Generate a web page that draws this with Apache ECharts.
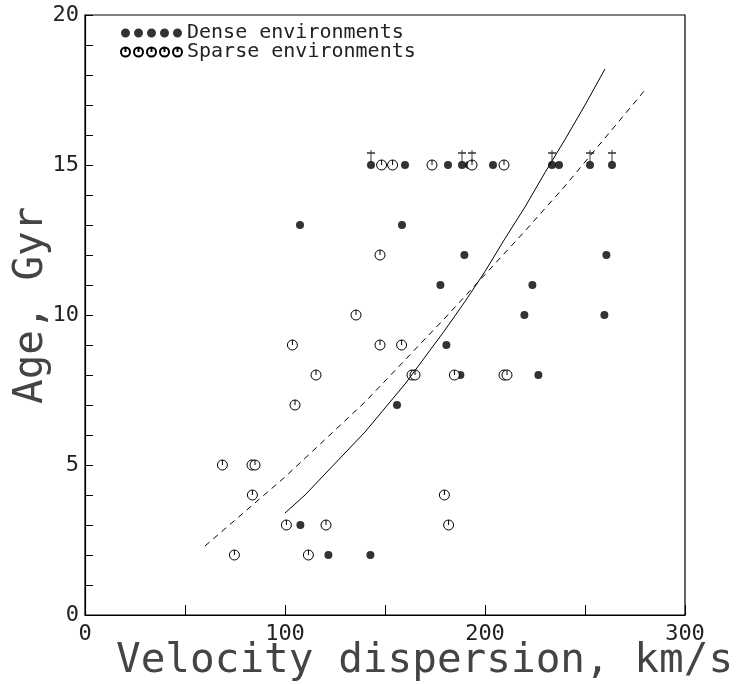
<!DOCTYPE html>
<html>
<head>
<meta charset="utf-8">
<script src="https://cdn.jsdelivr.net/npm/echarts@6/dist/echarts.min.js"></script>
<style>
  html, body { margin: 0; padding: 0; background: #fff; }
  #main { width: 737px; height: 684px; }
</style>
</head>
<body>
<div id="main"></div>
<script>
// dense environments (filled dots)
var denseX = [143, 160, 181.5, 188.5, 192, 204, 233.5, 237, 252.5, 263.5,
              107.5, 158.5, 189.7, 260.7, 177.7, 223.7, 219.7, 259.7,
              180.7, 187.7, 226.7, 156, 107.7, 121.7, 142.7];
var denseY = [15, 15, 15, 15, 15, 15, 15, 15, 15, 15,
              13, 13, 12, 12, 11, 11, 10, 10,
              9, 8, 8, 7, 3, 2, 2];

// sparse environments (open circles)
var sparseX = [148.3, 153.8, 173.5, 193.5, 209.5, 147.5, 135.5,
               103.7, 147.5, 158.3, 115.5, 163.5, 165, 184.7, 209.5, 211,
               105, 68.7, 83.5, 85, 83.7, 179.7, 100.7, 120.5, 181.8, 74.7, 111.7];
var sparseY = [15, 15, 15, 15, 15, 12, 10,
               9, 9, 9, 8, 8, 8, 8, 8, 8,
               7, 5, 5, 5, 4, 4, 3, 3, 3, 2, 2];

// lower limits (daggers above the dots at 15 Gyr)
var limitX = [143, 188.5, 193.5, 233.5, 252.5, 263.5];
var limitY = [15, 15, 15, 15, 15, 15];

// fitted relations
var solidX = [100, 110, 120, 130, 140, 150, 160, 170, 180, 190, 200, 210, 220, 230, 240, 250, 260];
var solidY = [3.4, 4.0, 4.7, 5.4, 6.1, 6.9, 7.7, 8.6, 9.5, 10.45, 11.45, 12.55, 13.6, 14.75, 15.85, 17.0, 18.2];
var dashX = [60, 80, 100, 120, 140, 160, 180, 200, 220, 240, 260, 280];
var dashY = [2.3, 3.45, 4.6, 5.85, 7.1, 8.5, 9.9, 11.35, 12.8, 14.3, 15.9, 17.5];

var xTicks = [0, 100, 200, 300];
var yTicks = [0, 5, 10, 15, 20];

var FONT = 'DejaVu Sans Mono';

function pairs(xs, ys) {
    var out = [];
    for (var i = 0; i < xs.length; i++) out.push([xs[i], ys[i]]);
    return out;
}

var ring = 'M0,5A5,5,0,1,1,10,5A5,5,0,1,1,0,5ZM5,0L5,5';
var dagger = 'path://M4,0L4,12M0,3L8,3';

// five-marker legend icons
var dotsIcon = 'path://', ringsIcon = 'path://';
for (var k = 0; k < 5; k++) {
    var c = k * 13;
    dotsIcon += 'M' + c + ',4.5A4.5,4.5,0,1,1,' + (c + 9) + ',4.5A4.5,4.5,0,1,1,' + c + ',4.5Z';
    ringsIcon += 'M' + c + ',4.5A4.5,4.5,0,1,1,' + (c + 9) + ',4.5A4.5,4.5,0,1,1,' + c + ',4.5Z' +
                 'M' + (c + 4.5) + ',0L' + (c + 4.5) + ',4.5';
}

var chart = echarts.init(document.getElementById('main'), null, { renderer: 'canvas' });

var option = {
    backgroundColor: '#fff',
    animation: false,
    grid: {
        left: 85, right: 52, top: 15, bottom: 69,
        show: true, borderColor: '#000', borderWidth: 1.2, backgroundColor: 'transparent'
    },
    legend: {
        orient: 'vertical',
        left: 115, top: 18,
        itemWidth: 61, itemHeight: 9, itemGap: -1,
        selectedMode: false,
        textStyle: { fontFamily: FONT, fontSize: 20, color: '#222', lineHeight: 20 },
        data: [
            { name: 'Dense environments', icon: dotsIcon },
            { name: 'Sparse environments', icon: ringsIcon }
        ]
    },
    xAxis: {
        type: 'value', min: 0, max: 300, interval: 50,
        axisLine: { show: true, lineStyle: { color: '#000', width: 1.2 } },
        axisTick: { show: true, inside: true, length: 10, lineStyle: { color: '#000' } },
        splitLine: { show: false },
        axisLabel: {
            margin: 8, fontFamily: FONT, fontSize: 22, color: '#222',
            formatter: function (v) { return xTicks.indexOf(v) >= 0 ? String(v) : ''; }
        }
    },
    yAxis: {
        type: 'value', min: 0, max: 20, interval: 5,
        axisLine: { show: true, lineStyle: { color: '#000', width: 1.2 } },
        axisTick: { show: true, inside: true, length: 8, lineStyle: { color: '#000' } },
        minorTick: { show: true, splitNumber: 5, length: 8, lineStyle: { color: '#000' } },
        splitLine: { show: false },
        axisLabel: {
            margin: 6, fontFamily: FONT, fontSize: 22, color: '#222',
            formatter: function (v) { return yTicks.indexOf(v) >= 0 ? String(v) : ''; }
        }
    },
    graphic: [
        {
            type: 'text', left: 116, top: 641,
            style: { text: 'Velocity dispersion, km/s', font: '41px "' + FONT + '"', fill: '#444' }
        },
        {
            type: 'text', x: 11, y: 404, rotation: Math.PI / 2,
            style: { text: 'Age, Gyr', font: '41px "' + FONT + '"', fill: '#444' }
        }
    ],
    series: [
        {
            name: 'fit solid', type: 'line', data: pairs(solidX, solidY),
            showSymbol: false, silent: true, smooth: false,
            lineStyle: { color: '#000', width: 1 }
        },
        {
            name: 'fit dashed', type: 'line', data: pairs(dashX, dashY),
            showSymbol: false, silent: true,
            lineStyle: { color: '#000', width: 1, type: [6, 5] }
        },
        {
            name: 'Dense environments', type: 'scatter', data: pairs(denseX, denseY),
            symbol: 'circle', symbolSize: 8,
            itemStyle: { color: '#000' }
        },
        {
            name: 'Sparse environments', type: 'scatter', data: pairs(sparseX, sparseY),
            symbol: 'path://' + ring, symbolSize: 10,
            itemStyle: { color: '#fff', borderColor: '#000', borderWidth: 1, opacity: 1 }
        },
        {
            name: 'limits', type: 'scatter', data: pairs(limitX, limitY),
            symbol: dagger, symbolSize: [8, 12], symbolOffset: [0, -9], silent: true,
            itemStyle: { color: 'rgba(0,0,0,0)', borderColor: '#000', borderWidth: 1.2 }
        }
    ]
};

chart.setOption(option);
</script>
</body>
</html>
